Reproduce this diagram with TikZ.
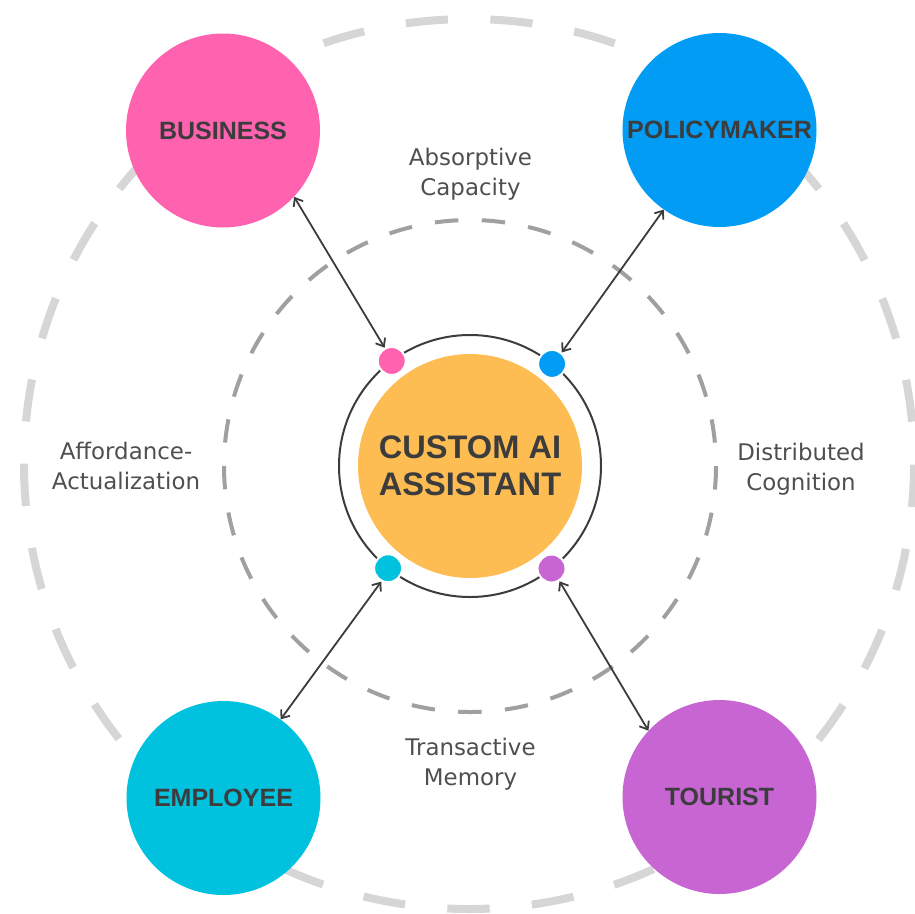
\documentclass[tikz,border=0pt]{standalone}
\usepackage{fontspec}
\setmainfont{Liberation Sans}
\newfontfamily\labelfont{DejaVu Sans}
\usetikzlibrary{arrows.meta}

\definecolor{bizpink}{HTML}{FF63AF}
\definecolor{polblue}{HTML}{039CF5}
\definecolor{empcyan}{HTML}{00C2DE}
\definecolor{tourpurple}{HTML}{C766D3}
\definecolor{corefill}{HTML}{FEBD53}
\definecolor{ink}{HTML}{3C3C3C}
\definecolor{lbl}{HTML}{4F4F4F}
\definecolor{outerg}{HTML}{D6D6D6}
\definecolor{innerg}{HTML}{A0A0A0}

\begin{document}
\begin{tikzpicture}[x=1pt,y=-1pt,
  stake/.style={circle, minimum size=194pt, inner sep=0pt,
    font=\fontsize{25}{28}\selectfont\bfseries, text=ink},
  theory/.style={font=\labelfont\fontsize{22.9}{29.5}\selectfont,
    text=lbl, align=center, inner sep=0pt},
  port/.style={circle, minimum size=28pt, inner sep=0pt,
    draw=white, line width=2pt},
  link/.style={draw=ink, line width=1.8pt,
    {Straight Barb[length=7pt,width=11pt]}-{Straight Barb[length=7pt,width=11pt]}}
]
\useasboundingbox (0,0) rectangle (915,913);
\coordinate (c) at (470,466);
\coordinate (co) at (469,464);

% theory rings
\draw[line width=8pt, outerg, dash pattern=on 42.36pt off 42.36pt,
  dash phase=42.36pt] (co) circle[radius=445pt];
\draw[line width=4pt, innerg, dash pattern=on 23.42pt off 23.42pt,
  dash phase=23.42pt] (c) circle[radius=246pt];

% theory labels
\node[theory] (absorb) at (470.5,174) {Absorptive\\Capacity};
\node[theory] (afford) at (126,466) {Affordance-\\Actualization};
\node[theory] (distrib) at (801,469) {Distributed\\Cognition};
\node[theory] (transact) at (470.5,764) {Transactive\\Memory};

% stakeholders
\node[stake, fill=bizpink] (biz) at (223,130.5) {BUSINESS};
\node[stake, fill=polblue] (pol) at (719.5,130) {POLICYMAKER};
\node[stake, fill=empcyan] (emp) at (223.5,798) {EMPLOYEE};
\node[stake, fill=tourpurple] (tour) at (719.5,797) {TOURIST};

% assistant core with its ring
\node[circle, draw=ink, line width=2pt, minimum size=262pt, inner sep=0pt] (ring) at (c) {};
\node[circle, fill=corefill, minimum size=224pt, inner sep=0pt, align=center,
  font=\fontsize{32.6}{37}\selectfont\bfseries, text=ink] (hub) at (c) {CUSTOM AI\\ASSISTANT};

% ports on the ring
\node[port, fill=bizpink] (pb) at ([shift={(126.7:131pt)}]c) {};
\node[port, fill=polblue] (pp) at ([shift={(51.2:131pt)}]c) {};
\node[port, fill=empcyan] (pe) at ([shift={(231.3:131pt)}]c) {};
\node[port, fill=tourpurple] (pt) at ([shift={(-51.5:131pt)}]c) {};

% two-way links
\draw[link] (biz.-43) -- (pb.118);
\draw[link] (pol.235.6) -- (pp.50);
\draw[link] (emp.54.4) -- (pe.243);
\draw[link] (tour.137) -- (pt.-58.7);
\end{tikzpicture}
\end{document}
